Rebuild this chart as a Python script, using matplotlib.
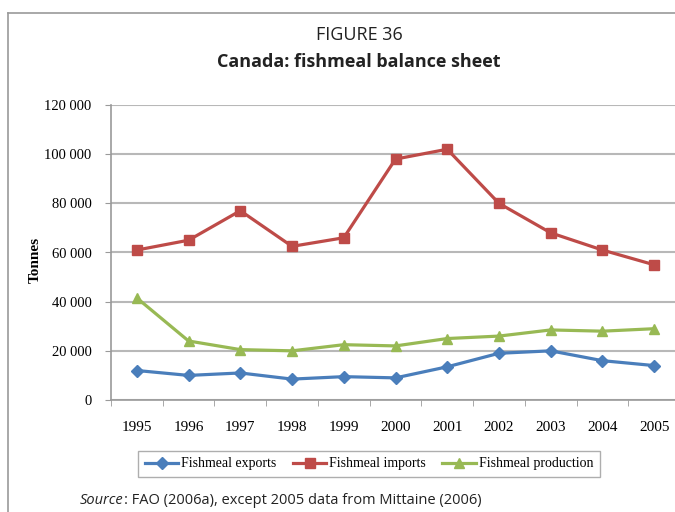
import numpy as np
import matplotlib
matplotlib.use("Agg")
import matplotlib.pyplot as plt
from matplotlib.lines import Line2D

years = ["1995", "1996", "1997", "1998", "1999", "2000",
         "2001", "2002", "2003", "2004", "2005"]
exports = [12000, 10000, 11000, 8500, 9500, 9000, 13500, 19000, 20000, 16000, 14000]
imports = [61000, 65000, 77000, 62500, 66000, 98000, 102000, 80000, 68000, 61000, 55000]
production = [41500, 24000, 20500, 20000, 22500, 22000, 25000, 26000, 28500, 28000, 29000]
yticks = [0, 20000, 40000, 60000, 80000, 100000, 120000]
ytick_labels = ["0", "20 000", "40 000", "60 000", "80 000", "100 000", "120 000"]

serif = "Liberation Serif"
sans = "Open Sans"
W, H = 675, 512

fig = plt.figure(figsize=(6.75, 5.12), dpi=100)

# outer frame (left and top border lines)
fig.add_artist(Line2D([8 / W, 8 / W], [0, 1 - 13 / H], color="#9a9a9a", lw=1.2))
fig.add_artist(Line2D([8 / W, 1], [1 - 13 / H, 1 - 13 / H], color="#9a9a9a", lw=1.2))

fig.text(359 / W, 1 - 35 / H, "FIGURE 36", ha="center", va="center",
         fontsize=13, family=sans, color="#222222")
fig.text(359 / W, 1 - 62 / H, "Canada: fishmeal balance sheet", ha="center", va="center",
         fontsize=13, family=sans, fontweight="bold", color="#222222")

ax = fig.add_axes([111 / W, 1 - 400 / H, (680 - 111) / W, (400 - 105) / H])
x = np.arange(len(years))

ax.plot(x, exports, color="#4a7ebb", lw=2.3, marker="D", ms=6.5, label="Fishmeal exports")
ax.plot(x, imports, color="#be4b48", lw=2.3, marker="s", ms=7.5, label="Fishmeal imports")
ax.plot(x, production, color="#98b954", lw=2.3, marker="^", ms=7.5, label="Fishmeal production")

ax.set_xlim(-0.5, len(years) - 0.5)
ax.set_ylim(0, 120000)
ax.set_yticks(yticks)
ax.set_yticklabels(ytick_labels, family=serif, fontsize=10.5)
ax.set_xticks(x)
ax.set_xticklabels(years, family=serif, fontsize=11)
ax.set_xticks(np.arange(-0.5, len(years) + 0.5, 1), minor=True)
ax.tick_params(axis="x", which="major", length=0, pad=15)
ax.tick_params(axis="x", which="minor", length=4, color="#9a9a9a")
ax.tick_params(axis="y", length=4, color="#9a9a9a", pad=10)
ax.grid(axis="y", color="#b8b8b8", lw=1.5)
ax.set_axisbelow(True)
for s in ["top", "right"]:
    ax.spines[s].set_visible(False)
for s in ["left", "bottom"]:
    ax.spines[s].set_color("#9a9a9a")
    ax.spines[s].set_linewidth(1.2)

fig.text(35 / W, 1 - 260 / H, "Tonnes", family=serif, fontweight="bold", fontsize=11,
         rotation=90, ha="center", va="center")

leg = fig.legend(loc="center", bbox_to_anchor=(369 / W, 1 - 464 / H),
                 ncol=3, prop={"family": serif, "size": 10}, frameon=True,
                 fancybox=False, edgecolor="#9a9a9a", handlelength=2.4,
                 columnspacing=1.2, handletextpad=0.2, borderpad=0.5)
leg.get_frame().set_linewidth(1.0)

# source line: italic "Source" followed by the rest
src = fig.text(80 / W, 1 - 500 / H, "Source", style="italic", fontsize=10.5,
               family=sans, va="center", color="#222222")
fig.canvas.draw()
bb = src.get_window_extent(fig.canvas.get_renderer())
fig.text(bb.x1 / W, 1 - 500 / H, ": FAO (2006a), except 2005 data from Mittaine (2006)",
         fontsize=10.5, family=sans, va="center", color="#222222")

fig.savefig("out.png", dpi=100)
